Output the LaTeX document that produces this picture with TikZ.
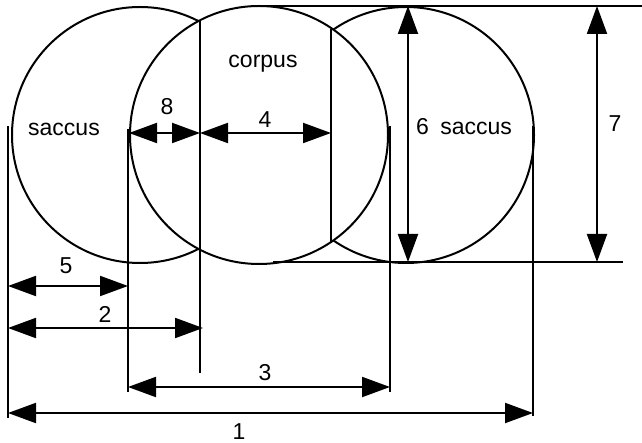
\documentclass[tikz,border=0pt]{standalone}
\usepackage{fontspec}
\setmainfont{Liberation Sans}
\usetikzlibrary{arrows.meta}
\begin{document}
\begin{tikzpicture}[x=0.5pt,y=-0.5pt,
  line/.style={line width=1pt},
  dim/.style={line width=1pt,{Triangle[length=14pt,width=10pt]}-{Triangle[length=14pt,width=10pt]}},
  lbl/.style={inner sep=0pt,anchor=base,font=\fontsize{11.5}{13}\selectfont}]
\useasboundingbox (0,0) rectangle (642,443);
% circles (corpus on top, hiding the sacci behind it)
\draw[line] (140,135) circle[radius=128];
\draw[line] (406,135) circle[radius=128];
\draw[line,fill=white] (259,135) circle[radius=129];
% extension lines
\coordinate (a1) at (8,126);   \coordinate (a2) at (8,418);
\coordinate (b1) at (128,129); \coordinate (b2) at (128,392);
\coordinate (c1) at (200,21);  \coordinate (c2) at (200,373);
\coordinate (d1) at (331,29);  \coordinate (d2) at (331,242);
\coordinate (e1) at (390,126); \coordinate (e2) at (390,392);
\coordinate (f1) at (533,126); \coordinate (f2) at (533,416);
\coordinate (t1) at (258,6);   \coordinate (t2) at (642,6);
\coordinate (u1) at (273,262); \coordinate (u2) at (623,262);
\draw[line] (a1) -- (a2);
\draw[line] (b1) -- (b2);
\draw[line] (c1) -- (c2);
\draw[line] (d1) -- (d2);
\draw[line] (e1) -- (e2);
\draw[line] (f1) -- (f2);
\draw[line] (t1) -- (t2);
\draw[line] (u1) -- (u2);
% dimension arrows
\coordinate (p8a) at (129,133); \coordinate (p8b) at (200,133);
\coordinate (p4a) at (200,133); \coordinate (p4b) at (331,133);
\coordinate (p6a) at (408,6);   \coordinate (p6b) at (408,262);
\coordinate (p7a) at (597,6);   \coordinate (p7b) at (597,262);
\coordinate (p5a) at (8,286);   \coordinate (p5b) at (128,286);
\coordinate (p2a) at (8,328);   \coordinate (p2b) at (203,328);
\coordinate (p3a) at (128,387); \coordinate (p3b) at (390,387);
\coordinate (p1a) at (8,413);   \coordinate (p1b) at (533,413);
\draw[dim] (p8a) -- (p8b);
\draw[dim] (p4a) -- (p4b);
\draw[dim] (p6a) -- (p6b);
\draw[dim] (p7a) -- (p7b);
\draw[dim] (p5a) -- (p5b);
\draw[dim] (p2a) -- (p2b);
\draw[dim] (p3a) -- (p3b);
\draw[dim] (p1a) -- (p1b);
% labels
\node[lbl] (ls) at (64,136) {saccus};
\node[lbl] (lc) at (263,68) {corpus};
\node[lbl] (l8) at (167,115) {8};
\node[lbl] (l4) at (265,128) {4};
\node[lbl] (l6) at (464,135) {6\enspace saccus};
\node[lbl] (l7) at (615,132) {7};
\node[lbl] (l5) at (66,273) {5};
\node[lbl] (l2) at (105,322) {2};
\node[lbl] (l3) at (265,380) {3};
\node[lbl] (l1) at (239,439) {1};
\end{tikzpicture}
\end{document}
